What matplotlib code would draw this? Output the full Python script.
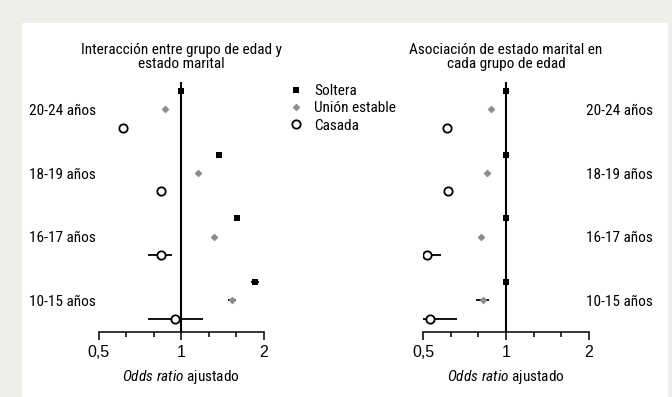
import matplotlib
matplotlib.use('Agg')
import matplotlib.pyplot as plt
from matplotlib import font_manager
from matplotlib.lines import Line2D
from matplotlib.patches import Rectangle
from matplotlib.ticker import FixedLocator, NullFormatter
import numpy as np

# age groups, bottom to top
GROUPS = ['10-15 años', '16-17 años', '18-19 años', '20-24 años']
SERIES = ['Soltera', 'Unión estable', 'Casada']

# interaction panel: odds ratio and 95% CI (low, high)
LEFT_OR = {
    'Soltera':       [1.853, 1.594, 1.37, 1.0],
    'Unión estable': [1.524, 1.314, 1.153, 0.872],
    'Casada':        [0.951, 0.843, 0.846, 0.611],
}
LEFT_LO = {
    'Soltera':       [1.80, 1.594, 1.37, 1.0],
    'Unión estable': [1.48, 1.30, 1.153, 0.872],
    'Casada':        [0.758, 0.758, 0.82, 0.611],
}
LEFT_HI = {
    'Soltera':       [1.92, 1.594, 1.37, 1.0],
    'Unión estable': [1.58, 1.33, 1.153, 0.872],
    'Casada':        [1.198, 0.924, 0.88, 0.611],
}

# association panel: odds ratio and 95% CI (low, high)
RIGHT_OR = {
    'Soltera':       [1.0, 1.0, 1.0, 1.0],
    'Unión estable': [0.823, 0.813, 0.853, 0.879],
    'Casada':        [0.528, 0.518, 0.614, 0.611],
}
RIGHT_LO = {
    'Soltera':       [1.0, 1.0, 1.0, 1.0],
    'Unión estable': [0.777, 0.80, 0.853, 0.879],
    'Casada':        [0.50, 0.50, 0.60, 0.611],
}
RIGHT_HI = {
    'Soltera':       [1.0, 1.0, 1.0, 1.0],
    'Unión estable': [0.864, 0.83, 0.853, 0.879],
    'Casada':        [0.664, 0.583, 0.63, 0.611],
}

TITLES = ['Interacción entre grupo de edad y\nestado marital',
          'Asociación de estado marital en\ncada grupo de edad']
XTICKS = [0.5, 1, 2]
XTICKLABELS = ['0,5', '1', '2']

OFFSETS = {'Soltera': 0.29, 'Unión estable': 0.0, 'Casada': -0.29}
STYLE = {
    'Soltera':       dict(marker='s', ms=4.4, mfc='black', mec='black', mew=0),
    'Unión estable': dict(marker='D', ms=3.4, mfc='#8c8c8c', mec='#8c8c8c', mew=0.6),
    'Casada':        dict(marker='o', ms=6.0, mfc='white', mec='black', mew=1.3),
}

installed = {f.name for f in font_manager.fontManager.ttflist}
NARROW = next((f for f in ['Liberation Sans Narrow', 'Roboto Condensed', 'Open Sans Condensed']
               if f in installed), 'DejaVu Sans')
plt.rcParams['font.family'] = [NARROW, 'DejaVu Sans']
plt.rcParams['mathtext.fontset'] = 'custom'
plt.rcParams['mathtext.rm'] = NARROW
plt.rcParams['mathtext.it'] = NARROW + ':italic'

BG = '#efefea'
fig = plt.figure(figsize=(6.72, 3.97), dpi=100, facecolor=BG)
fig.add_artist(Rectangle((22 / 672, 0), 646 / 672, 374 / 397, transform=fig.transFigure,
                         facecolor='white', edgecolor='none', zorder=0))

ax_l = fig.add_axes([0.1469, 0.1637, 0.2460, 0.6296])
ax_r = fig.add_axes([0.6295, 0.1637, 0.2470, 0.6296])

ypos = np.arange(len(GROUPS), dtype=float)

for ax, ors, los, his, title in [(ax_l, LEFT_OR, LEFT_LO, LEFT_HI, TITLES[0]),
                                 (ax_r, RIGHT_OR, RIGHT_LO, RIGHT_HI, TITLES[1])]:
    ax.set_facecolor('none')
    ax.set_xscale('log')
    ax.set_xlim(0.5, 2)
    ax.set_ylim(-0.5, 3.43)
    ax.axvline(1, color='black', lw=1.5, zorder=2)

    for s in SERIES:
        y = ypos + OFFSETS[s]
        ax.hlines(y, los[s], his[s], color='black', lw=1.3, zorder=3)
        ax.plot(ors[s], y, ls='none', zorder=4, **STYLE[s])

    for side in ['top', 'right', 'left']:
        ax.spines[side].set_visible(False)
    ax.spines['bottom'].set_linewidth(1.1)

    ax.xaxis.set_major_locator(FixedLocator(XTICKS))
    ax.set_xticklabels(XTICKLABELS, family=['Liberation Sans', 'DejaVu Sans'], fontsize=11.5)
    ax.xaxis.set_minor_locator(FixedLocator([2 ** (k / 3) for k in (-2, -1, 1, 2)]))
    ax.xaxis.set_minor_formatter(NullFormatter())
    ax.tick_params(axis='x', which='major', length=6, width=1.1, pad=3)
    ax.tick_params(axis='x', which='minor', length=3.5, width=1.1)
    ax.set_xlabel(r'$\mathit{Odds\ ratio}$ ajustado', fontsize=11, labelpad=6)
    ax.set_title(title, fontsize=11, pad=10, linespacing=1.0)

    ax.set_yticks(ypos)
    ax.set_yticklabels(GROUPS, fontsize=11)
    ax.tick_params(axis='y', length=0)

ax_l.tick_params(axis='y', pad=2)
ax_r.yaxis.tick_right()
ax_r.tick_params(axis='y', length=0, pad=-2)

handles = [Line2D([], [], ls='none', **STYLE[s]) for s in SERIES]
fig.legend(handles, SERIES, loc='upper left', bbox_to_anchor=(288 / 672, 1 - 84 / 397),
           frameon=False, fontsize=11, handlelength=1.0, handletextpad=0.7,
           labelspacing=0.22, borderpad=0, borderaxespad=0)

fig.savefig('out.png', dpi=100, facecolor=BG)
